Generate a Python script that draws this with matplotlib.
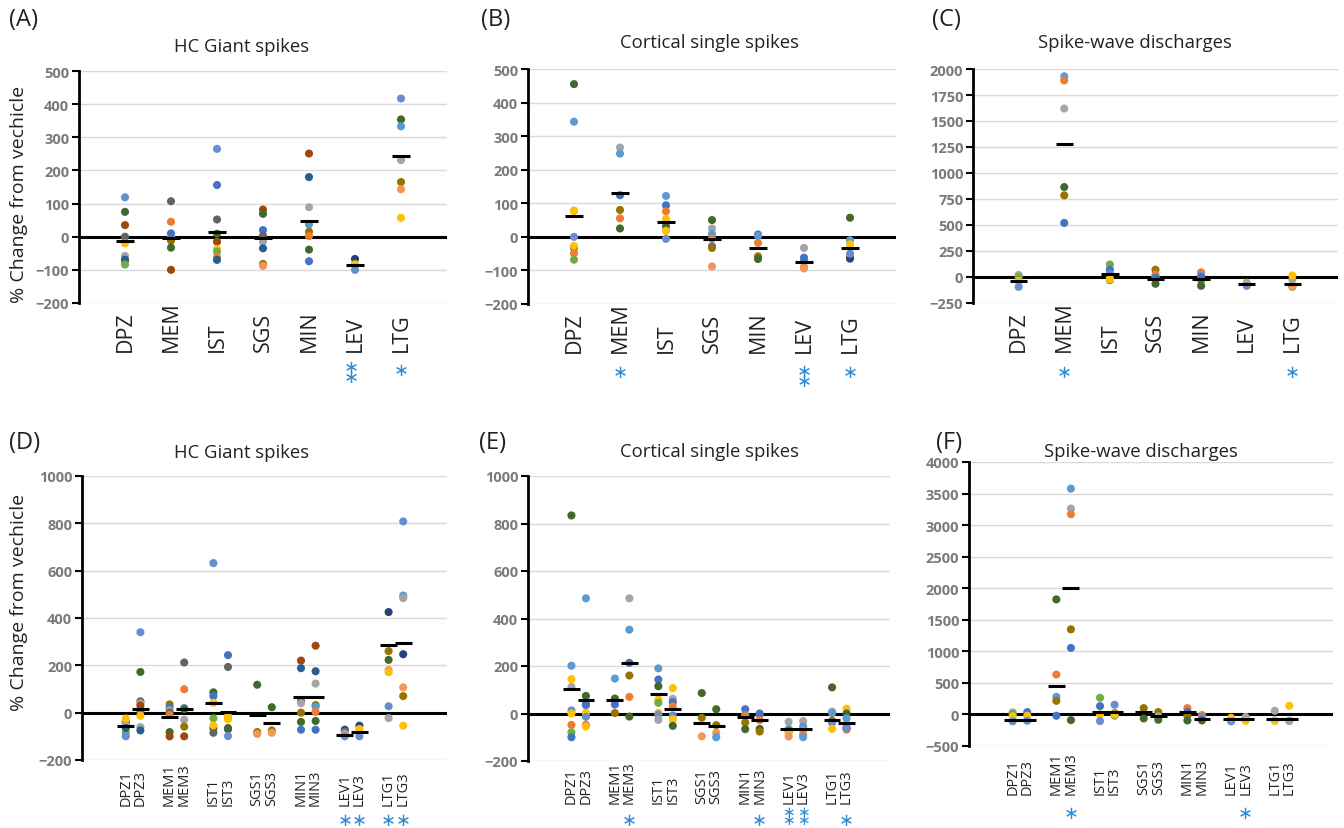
import matplotlib
matplotlib.use('Agg')
import matplotlib.pyplot as plt
import matplotlib.transforms as mtransforms
import numpy as np

plt.rcParams['font.family'] = ['Open Sans', 'DejaVu Sans']

W, H = 1344, 829

PAL = {'lb': '#5B9BD5', 'or': '#ED7D31', 'gy': '#A5A5A5', 'ye': '#FFC000',
       'bl': '#4472C4', 'gr': '#70AD47', 'db': '#255E91', 'br': '#9E480E',
       'dg': '#636363', 'ol': '#997300', 'nb': '#264478', 'dgr': '#43682B',
       'lor': '#F1975A', 'lbl': '#698ED0'}

# ---- top row categories ----
drugs = ['DPZ', 'MEM', 'IST', 'SGS', 'MIN', 'LEV', 'LTG']
# ---- bottom row categories (dose 1 / dose 3) ----
doses = ['DPZ1', 'DPZ3', 'MEM1', 'MEM3', 'IST1', 'IST3', 'SGS1', 'SGS3',
         'MIN1', 'MIN3', 'LEV1', 'LEV3', 'LTG1', 'LTG3']

# (A) HC giant spikes
a_vals = [[119, 75, 35, 0, -75, -20, -58, -69, -84],
          [107, 45, 0, 10, -12, -33, -100],
          [265, 156, 52, 9, -15, -37, -45, -62, -70],
          [82, 69, 20, 3, -15, -35, -82, -88],
          [251, 180, 89, 37, 15, 2, -39, -74],
          [-67, -85, -83, -100],
          [417, 354, 333, 231, 165, 143, 57]]
a_cols = [['lbl', 'dgr', 'br', 'dg', 'or', 'ye', 'gy', 'db', 'gr'],
          ['dg', 'or', 'gy', 'bl', 'ol', 'dgr', 'br'],
          ['lbl', 'bl', 'dg', 'dgr', 'br', 'ye', 'gr', 'or', 'db'],
          ['br', 'dgr', 'bl', 'dg', 'gy', 'db', 'ol', 'lor'],
          ['br', 'db', 'gy', 'lb', 'ol', 'or', 'dgr', 'bl'],
          ['nb', 'lb', 'ye', 'lbl'],
          ['lbl', 'dgr', 'lb', 'gy', 'ol', 'lor', 'ye']]
a_means = [-13, -3, 15, -5, 48, -84, 243]

# (B) cortical single spikes
b_vals = [[455, 343, 78, 77, 0, -33, -27, -49, -68],
          [266, 248, 124, 80, 55, 25],
          [122, 94, 76, 53, 31, 18, -6],
          [50, 25, 9, -5, -28, -33, -88],
          [7, 3, -18, -58, -66],
          [-33, -70, -62, -90, -94],
          [57, -10, -22, -58, -65, -50]]
b_cols = [['dgr', 'lb', 'gy', 'ye', 'lbl', 'bl', 'ye', 'or', 'gr'],
          ['gy', 'lb', 'bl', 'ol', 'or', 'dgr'],
          ['lb', 'bl', 'or', 'ye', 'dgr', 'ye', 'lbl'],
          ['dgr', 'gy', 'lb', 'or', 'bl', 'ol', 'lor'],
          ['bl', 'lb', 'or', 'ol', 'dgr'],
          ['gy', 'lb', 'bl', 'or', 'lor'],
          ['dgr', 'lb', 'ye', 'or', 'nb', 'lbl']]
b_means = [62, 131, 44, -5, -33, -74, -33]

# (C) spike-wave discharges
c_vals = [[20, 0, -40, -95],
          [1930, 1890, 1620, 865, 785, 520],
          [120, 70, 30, -30, -15, -25],
          [70, 25, 0, -10, -65],
          [45, 10, -30, 0, -85],
          [-55, -75, -85],
          [-25, -95, -90, 15]]
c_cols = [['gy', 'gr', 'ye', 'lbl'],
          ['lb', 'or', 'gy', 'dgr', 'ol', 'bl'],
          ['gr', 'bl', 'lbl', 'dgr', 'ye', 'ye'],
          ['ol', 'or', 'lb', 'bl', 'dgr'],
          ['or', 'lb', 'ol', 'bl', 'dgr'],
          ['gy', 'ye', 'lbl'],
          ['gy', 'gr', 'lor', 'ye']]
c_means = [-42, 1283, 32, -22, -22, -70, -70]

# (D) HC giant spikes by dose
d_vals = [[-40, -45, -50, -85, -65, -100, -25],
          [340, 172, 48, 40, 30, 5, -13, -61, -75],
          [35, 20, 10, 0, -10, -82, -100],
          [212, 99, 20, 15, -30, -59, -100],
          [632, 86, 70, 42, -24, -65, -85, -54],
          [243, 193, -20, -15, -28, -70, -65, -99],
          [118, -82, -90],
          [23, -75, -85],
          [220, 188, 49, 40, 0, -39, -72],
          [283, 175, 123, 32, 25, 3, -35, -72],
          [-72, -80, -90, -100],
          [-55, -69, -100],
          [425, 260, 223, 180, 171, 27, -23],
          [808, 495, 484, 247, 107, 70, -55]]
d_cols = [['ol', 'dg', 'gy', 'gr', 'db', 'lbl', 'ye'],
          ['lbl', 'dgr', 'dg', 'gy', 'br', 'bl', 'ye', 'gy', 'db'],
          ['ol', 'bl', 'gy', 'dg', 'or', 'dgr', 'br'],
          ['dg', 'or', 'lb', 'dgr', 'gy', 'ol', 'br'],
          ['lbl', 'dgr', 'bl', 'ye', 'gr', 'db', 'dg', 'ye'],
          ['bl', 'dg', 'or', 'ye', 'ye', 'db', 'dgr', 'lbl'],
          ['dgr', 'ol', 'lor'],
          ['dgr', 'ol', 'lor'],
          ['br', 'db', 'dg', 'gy', 'ol', 'dgr', 'bl'],
          ['br', 'db', 'gy', 'ol', 'lb', 'or', 'dgr', 'bl'],
          ['nb', 'bl', 'lor', 'lbl'],
          ['nb', 'ye', 'lbl'],
          ['nb', 'ol', 'dgr', 'lor', 'ye', 'lbl', 'gy'],
          ['lbl', 'lb', 'gy', 'nb', 'lor', 'ol', 'ye']]
d_means = [-55, 15, -18, 15, 41, 3, -10, -42, 67, 67, -94, -82, 288, 296]

# (E) cortical single spikes by dose
e_vals = [[834, 201, 145, 112, 13, 0, -48, -79, -100],
          [485, 74, 38, 35, 3, -14, -48, -55],
          [147, 63, 38, 2],
          [485, 353, 213, 160, 70, -13],
          [190, 143, 115, 58, 45, 3, -5, -27],
          [107, 62, 48, 30, -8, -25, -52],
          [86, -18, -96],
          [18, -49, -81, -100],
          [18, -5, -10, -38, -66],
          [-5, 0, -28, -65, -76],
          [-35, -65, -75, -80, -97],
          [-32, -55, -75, -90, -100],
          [110, 8, 2, -30, -39, -65],
          [20, 0, -21, -68, -60, -63]]
e_cols = [['dgr', 'lb', 'ye', 'gy', 'lbl', 'ye', 'or', 'gr', 'bl'],
          ['lb', 'dgr', 'db', 'bl', 'ye', 'lbl', 'or', 'ye'],
          ['lb', 'dgr', 'bl', 'ol'],
          ['gy', 'lb', 'bl', 'ol', 'or', 'dgr'],
          ['lb', 'bl', 'dgr', 'ye', 'gr', 'ye', 'lbl', 'gy'],
          ['ye', 'gy', 'bl', 'or', 'lbl', 'ye', 'dgr'],
          ['dgr', 'ol', 'lor'],
          ['dgr', 'ol', 'lor', 'lb'],
          ['bl', 'lb', 'or', 'ol', 'dgr'],
          ['lbl', 'bl', 'or', 'dgr', 'ol'],
          ['gy', 'lb', 'nb', 'ye', 'lor'],
          ['gy', 'lbl', 'ye', 'or', 'lb'],
          ['dgr', 'gy', 'lb', 'ol', 'lbl', 'ye'],
          ['ye', 'dgr', 'lb', 'or', 'nb', 'lbl']]
e_means = [105, 58, 58, 213, 83, 20, -38, -51, -13, -28, -65, -65, -27, -38]

# (F) spike-wave discharges by dose
f_vals = [[32, 10, -30, -110],
          [37, -21, -100],
          [1823, 632, 279, 216, -21],
          [3578, 3262, 3173, 1349, 1054, -90],
          [264, 132, 0, -105],
          [153, 20, -20, 0],
          [100, -63],
          [37, -30, -84],
          [100, 40, -20, -95],
          [-10, -40, -95],
          [-110, -53],
          [-40, -100],
          [58, -95, -100],
          [137, -100, -105]]
f_cols = [['gy', 'gr', 'ye', 'lbl'],
          ['bl', 'ye', 'lbl'],
          ['dgr', 'or', 'lb', 'ol', 'bl'],
          ['lb', 'gy', 'or', 'ol', 'bl', 'dgr'],
          ['gr', 'bl', 'ye', 'lbl'],
          ['lbl', 'ol', 'gr', 'ye'],
          ['ol', 'dgr'],
          ['ol', 'gy', 'dgr'],
          ['or', 'bl', 'ol', 'dgr'],
          ['or', 'lbl', 'dgr'],
          ['lbl', 'ye'],
          ['gy', 'ye'],
          ['gy', 'or', 'ye'],
          ['ye', 'lbl', 'gy']]
f_means = [-84, -84, 458, 2008, 42, 45, 45, -32, 45, -80, -80, -80, -80, -80]

top_x = np.arange(1, 8)
bot_x = np.array([3, 4, 6, 7, 9, 10, 12, 13, 15, 16, 18, 19, 21, 22])

STAR = '#2b8cd6'
TICK_GRAY = '#7a7a7a'


def px_axes(fig, left, top, right, bottom):
    return fig.add_axes([left / W, 1 - bottom / H, (right - left) / W, (bottom - top) / H])


def below(ax, fig, dx, dy):
    return ax.get_xaxis_transform() + mtransforms.ScaledTranslation(dx / fig.dpi, -dy / fig.dpi,
                                                                    fig.dpi_scale_trans)


def draw_panel(ax, xpos, vals, cols, means, half, xmax, ylim, yticks):
    for x, v, c in zip(xpos, vals, cols):
        ax.scatter(np.full(len(v), x), v, s=34, c=[PAL[k] for k in c],
                   linewidths=0, zorder=3)
    ax.hlines(means, xpos - half, xpos + half, color='black', lw=2.2, zorder=4)
    ax.axhline(0, color='black', lw=2.2, zorder=2)
    ax.set_xlim(0, xmax)
    ax.set_ylim(*ylim)
    ax.set_yticks(yticks)
    ax.grid(axis='y', color='#d9d9d9', lw=1)
    ax.set_axisbelow(True)
    ax.set_xticks([])
    for s in ['top', 'right', 'bottom']:
        ax.spines[s].set_visible(False)
    ax.spines['left'].set_linewidth(2)
    ax.tick_params(axis='y', length=5, width=1.5, pad=2, labelsize=10.5,
                   labelcolor=TICK_GRAY)
    for lab in ax.get_yticklabels():
        lab.set_fontweight('bold')


fig = plt.figure(figsize=(W / 100, H / 100), dpi=100)

top_boxes = [(79, 72, 447, 304), (528, 70, 896, 305), (973, 70, 1338, 304)]
bot_boxes = [(82, 477, 447, 761), (528, 477, 890, 762), (969, 463, 1333, 747)]

top_data = [(a_vals, a_cols, a_means, (-200, 500), range(-200, 501, 100)),
            (b_vals, b_cols, b_means, (-200, 500), range(-200, 501, 100)),
            (c_vals, c_cols, c_means, (-250, 2000), range(-250, 2001, 250))]
bot_data = [(d_vals, d_cols, d_means, (-200, 1000), range(-200, 1001, 200)),
            (e_vals, e_cols, e_means, (-200, 1000), range(-200, 1001, 200)),
            (f_vals, f_cols, f_means, (-500, 4000), range(-500, 4001, 500))]

top_axes = []
for box, (v, c, m, yl, yt) in zip(top_boxes, top_data):
    ax = px_axes(fig, *box)
    draw_panel(ax, top_x, v, c, m, 0.19, 8, yl, yt)
    tr = below(ax, fig, 0, 48)
    for x, name in zip(top_x, drugs):
        ax.text(x, 0, name, transform=tr, rotation=90, ha='center', va='bottom',
                fontsize=15.5, color='#222222')
    top_axes.append(ax)

bot_axes = []
for box, lab_off, (v, c, m, yl, yt) in zip(bot_boxes, (45, 42, 48), bot_data):
    ax = px_axes(fig, *box)
    draw_panel(ax, bot_x, v, c, m, 0.58, 25, yl, yt)
    tr = below(ax, fig, 0, lab_off)
    for x, name in zip(bot_x, doses):
        ax.text(x, 0, name, transform=tr, rotation=90, ha='center', va='bottom',
                fontsize=10.5, color='#222222')
    bot_axes.append(ax)

# significance markers: (axes, x position, pixels below axis, number of stars)
stars = [(top_axes[0], 5.92, 64, 2), (top_axes[0], 7, 62, 1),
         (top_axes[1], 2, 63, 1), (top_axes[1], 6, 67, 2), (top_axes[1], 7, 63, 1),
         (top_axes[2], 2, 64, 1), (top_axes[2], 7, 64, 1),
         (bot_axes[0], 18, 55, 1), (bot_axes[0], 19, 55, 1),
         (bot_axes[0], 21, 55, 1), (bot_axes[0], 22, 55, 1),
         (bot_axes[1], 7, 54, 1), (bot_axes[1], 16, 54, 1),
         (bot_axes[1], 22, 54, 1),
         (bot_axes[2], 7, 62, 1), (bot_axes[2], 19, 62, 1)]
fs = 13
fs_px = fs * 100 / 72
for ax, x, off, n in stars:
    # asterisk operator sits near the math axis, so nudge down a little
    tr = below(ax, fig, 0, off + 0.3 * fs_px)
    ax.text(x, 0, '\n'.join(['\u2217'] * n), transform=tr, ha='center', va='center',
            fontsize=fs, color=STAR, family='DejaVu Sans', linespacing=0.42,
            clip_on=False)

# the double stars under LEV1 / LEV3 in (E) sit right at the bottom edge
for x in (18, 19):
    ax = bot_axes[1]
    ax.text(x, 0, '\u2217\n\u2217', transform=below(ax, fig, 0, 66), ha='center',
            va='bottom', fontsize=11, color=STAR, family='DejaVu Sans',
            linespacing=0.4, clip_on=False)

# titles
titles = [(242, 47, 'HC Giant spikes'), (709, 43, 'Cortical single spikes'),
          (1135, 43, 'Spike-wave discharges'), (242, 453, 'HC Giant spikes'),
          (709, 452, 'Cortical single spikes'), (1141, 452, 'Spike-wave discharges')]
for x, y, t in titles:
    fig.text(x / W, 1 - y / H, t, ha='center', va='center', fontsize=13.3, color='#222222')

letters = [(9, 20, '(A)'), (481, 20, '(B)'), (932, 20, '(C)'),
           (9, 443, '(D)'), (479, 443, '(E)'), (936, 443, '(F)')]
for x, y, t in letters:
    fig.text(x / W, 1 - y / H, t, ha='left', va='center', fontsize=17, color='#222222')

for y in (194, 602):
    fig.text(19 / W, 1 - y / H, '% Change from vechicle', rotation=90,
             ha='center', va='center', fontsize=14, color='#222222')

fig.savefig('out.png', dpi=100)
